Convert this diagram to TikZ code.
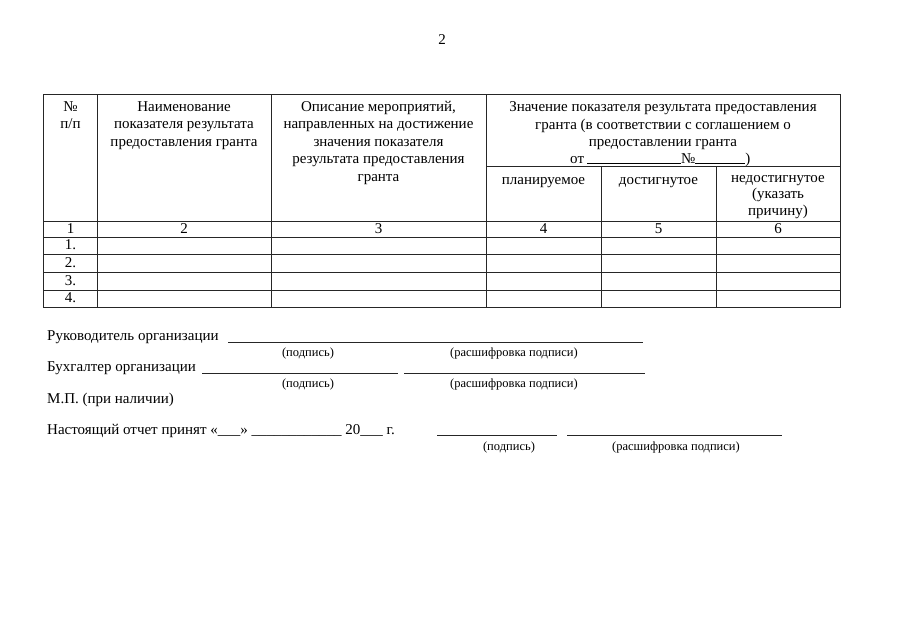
\documentclass[tikz,border=0pt]{standalone}
\usepackage{fontspec}
\setmainfont{Liberation Serif}
\usetikzlibrary{positioning}
\tikzset{tabline/.style={draw=black!85,line width=0.7pt}}
\tikzset{blank/.style={draw=black!85,line width=0.6pt}}
\tikzset{cell/.style={inner sep=0pt,anchor=base,font=\fontsize{15}{17.5}\selectfont}}
\tikzset{head/.style={cell,align=center,anchor=north}}
\tikzset{sign/.style={cell,anchor=base west}}
\tikzset{hint/.style={inner sep=0pt,anchor=base,font=\fontsize{12.5}{14}\selectfont}}

\begin{document}
\begin{tikzpicture}[x=1pt,y=-1pt]
    \useasboundingbox (0,0) rectangle (905,640);
    \node[cell] (page) at (442,44) {2};

    \draw[tabline] (43.5,94) rectangle (840,307);
    \draw[tabline] (97,94) -- (97,307);
    \draw[tabline] (271,94) -- (271,307);
    \draw[tabline] (486,94) -- (486,307);
    \draw[tabline] (601,166.5) -- (601,307);
    \draw[tabline] (716,166.5) -- (716,307);
    \draw[tabline] (486,166.5) -- (840,166.5);
    \draw[tabline] (43.5,221) -- (840,221);
    \foreach \y in {237,254.5,272.5,290}
        \draw[tabline] (43.5,\y) -- (840,\y);

    \node[head] (nom) at (70.5,99) {\strut№\\п/п};
    \node[head] (name) at (184,99) {\strut Наименование\\показателя результата\\предоставления гранта};
    \node[head] (descr) at (378.5,99) {\strut Описание мероприятий,\\направленных на достижение\\значения показателя\\результата предоставления\\гранта};
    \node[head] (value) at (663,99.5) {\strut Значение показателя результата предоставления\\гранта (в соответствии с соглашением о\\предоставлении гранта};
    \node[sign] (from) at (570,163) {от\hspace{3pt}\rule[-1pt]{94pt}{0.6pt}№\rule[-1pt]{50pt}{0.6pt})};
    \node[head] (plan) at (543.5,172) {\strut планируемое};
    \node[head] (done) at (658.5,172) {\strut достигнутое};
    \node[head,font=\fontsize{15}{16.3}\selectfont] (fail) at (778,171) {\strut недостигнутое\\(указать\\причину)};

    \foreach \n/\x in {1/70.5,2/184,3/378.5,4/543.5,5/658.5,6/778}
        \node[cell] (col\n) at (\x,233.5) {\n};
    \foreach \n/\y in {1/249.5,2/267,3/285,4/302.5}
        \node[cell] (row\n) at (70.5,\y) {\n.};

    \node[sign] (boss) at (47,340) {Руководитель организации};
    \draw[blank] (228,342) -- (643,342);
    \node[hint] (boss sig) at (308,356) {(подпись)};
    \node[hint] (boss dec) at (514,356) {(расшифровка подписи)};

    \node[sign] (acct) at (47,371) {Бухгалтер организации};
    \draw[blank] (202,373) -- (398,373);
    \draw[blank] (404,373) -- (645,373);
    \node[hint] (acct sig) at (308,387) {(подпись)};
    \node[hint] (acct dec) at (514,387) {(расшифровка подписи)};

    \node[sign] (seal) at (47,403) {М.П. (при наличии)};

    \node[sign] (accept) at (47,434) {Настоящий отчет принят «\_\_\_» \_\_\_\_\_\_\_\_\_\_\_\_ 20\_\_\_ г.};
    \draw[blank] (437,435) -- (557,435);
    \draw[blank] (567,435) -- (782,435);
    \node[hint] (acc sig) at (509,450) {(подпись)};
    \node[hint] (acc dec) at (676,450) {(расшифровка подписи)};
\end{tikzpicture}
\end{document}
